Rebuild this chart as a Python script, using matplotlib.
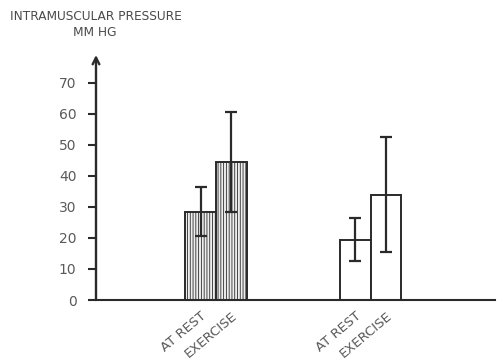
import matplotlib
matplotlib.use("Agg")
import matplotlib.pyplot as plt
import numpy as np

categories = ["AT REST", "EXERCISE"]
groups = ["hatched", "open"]
means_hatched = [28.5, 44.5]
err_hatched = [8.0, 16.0]
means_open = [19.5, 34.0]
err_open = [7.0, 18.5]
yticks = [0, 10, 20, 30, 40, 50, 60, 70]

plt.rcParams['hatch.linewidth'] = 0.6
plt.rcParams['hatch.color'] = '#444444'

fig = plt.figure(figsize=(5.01, 3.63), dpi=100)
ax = fig.add_axes([96/501, 63/363, 399/501, 245/363])

line_c = '#2a2a2a'
text_c = '#5a5a5a'
group_centers = [3.91, 8.95]
w = 1.0
for gi, (means, errs) in enumerate([(means_hatched, err_hatched), (means_open, err_open)]):
    xs = [group_centers[gi] - w/2, group_centers[gi] + w/2]
    ax.bar(xs, means, width=w, facecolor='#eeeeee' if gi == 0 else 'white',
           edgecolor=line_c, linewidth=1.4, hatch='||||||' if gi == 0 else None, zorder=2)
    ax.errorbar(xs, means, yerr=errs, fmt='none', ecolor=line_c, elinewidth=1.6,
                capsize=4.6, capthick=1.6, zorder=3)

ax.set_xlim(0, 13)
ax.set_ylim(0, 79)
ax.set_yticks(yticks)
ax.set_yticklabels([str(t) for t in yticks], fontsize=10, color=text_c)
ax.tick_params(axis='y', length=6, width=1.5, color=line_c, pad=8)

xt = []
xl = []
for gc in group_centers:
    xt += [gc - w/2, gc + w/2]
    xl += categories
ax.set_xticks(xt)
ax.set_xticklabels(xl, rotation=40, ha='right', rotation_mode='anchor', fontsize=9.5, color=text_c)
ax.tick_params(axis='x', length=0, pad=7)

for s in ['top', 'right', 'left']:
    ax.spines[s].set_visible(False)
ax.spines['bottom'].set_linewidth(1.5)
ax.spines['bottom'].set_color(line_c)

ax.annotate('', xy=(0, 1.0), xytext=(0, 0), xycoords='axes fraction',
            arrowprops=dict(arrowstyle='->', lw=1.7, color=line_c, shrinkA=0, shrinkB=0,
                            mutation_scale=12))

fig.text(10/501, 1 - 16/363, "INTRAMUSCULAR PRESSURE", fontsize=8.7, color='#4a4a4a',
         ha='left', va='center')
fig.text(95/501, 1 - 32/363, "MM HG", fontsize=8.7, color='#4a4a4a', ha='center', va='center')

fig.savefig("out.png", dpi=100)
